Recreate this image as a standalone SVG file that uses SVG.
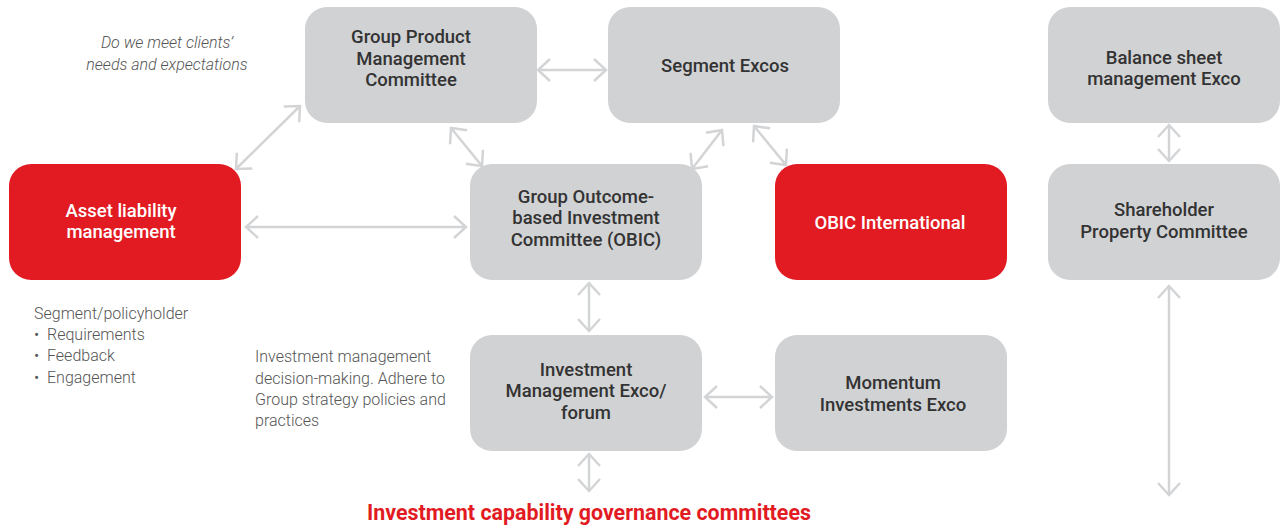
<svg xmlns="http://www.w3.org/2000/svg" width="1280" height="526" viewBox="0 0 1280 526">
  <style>
    .box { fill: #d1d2d4; }
    .red { fill: #e21b23; }
    .lbl { font-family: Roboto, "Liberation Sans", sans-serif; font-weight: 500; font-size: 18.5px; fill: #333333; text-anchor: middle; }
    .lblw { fill: #ffffff; }
    .note { font-family: Roboto, "Liberation Sans", sans-serif; font-weight: 300; font-size: 16px; fill: #555555; }
    .it { font-style: italic; text-anchor: middle; }
    .title { font-family: Roboto, "Liberation Sans", sans-serif; font-weight: 700; font-size: 21.4px; fill: #e21b23; text-anchor: middle; }
    .conn { stroke: #d3d4d6; stroke-width: 2.5; fill: none; marker-start: url(#chev); marker-end: url(#chev); }
  </style>
  <defs>
    <marker id="chev" viewBox="-14 -14 16 28" refX="0" refY="0" markerWidth="16" markerHeight="28" markerUnits="userSpaceOnUse" orient="auto-start-reverse">
      <path d="M-12,-11 L0,0 L-12,11" fill="none" stroke="#d3d4d6" stroke-width="2.5"/>
    </marker>
  </defs>

  <rect width="1280" height="526" fill="#ffffff"/>

  <!-- connectors -->
  <g id="connectors">
    <path class="conn" d="M538,70 L606,70"/>
    <path class="conn" d="M236,169 L300,106"/>
    <path class="conn" d="M451,128 L482,166"/>
    <path class="conn" d="M692,169 L722,130"/>
    <path class="conn" d="M754,126 L786,165"/>
    <path class="conn" d="M246,227 L466,227"/>
    <path class="conn" d="M589,283 L589,331"/>
    <path class="conn" d="M705,397 L772,397"/>
    <path class="conn" d="M589,454 L589,491"/>
    <path class="conn" d="M1169,125 L1169,161"/>
    <path class="conn" d="M1169,286 L1169,495"/>
  </g>

  <!-- nodes -->
  <g id="group-product-management-committee">
    <rect class="box" x="305" y="7" width="232" height="116" rx="22"/>
    <text class="lbl" x="411" y="43">Group Product</text>
    <text class="lbl" x="411" y="65">Management</text>
    <text class="lbl" x="411" y="86">Committee</text>
  </g>
  <g id="segment-excos">
    <rect class="box" x="608" y="7" width="232" height="116" rx="22"/>
    <text class="lbl" x="725" y="72">Segment Excos</text>
  </g>
  <g id="balance-sheet-management-exco">
    <rect class="box" x="1048" y="7" width="232" height="116" rx="22"/>
    <text class="lbl" x="1164" y="64">Balance sheet</text>
    <text class="lbl" x="1164" y="85">management Exco</text>
  </g>
  <g id="asset-liability-management">
    <rect class="red" x="9" y="164" width="232" height="116" rx="22"/>
    <text class="lbl lblw" x="121" y="217">Asset liability</text>
    <text class="lbl lblw" x="121" y="238">management</text>
  </g>
  <g id="obic">
    <rect class="box" x="470" y="164" width="232" height="116" rx="22"/>
    <text class="lbl" x="586" y="203">Group Outcome-</text>
    <text class="lbl" x="586" y="224">based Investment</text>
    <text class="lbl" x="586" y="246">Committee (OBIC)</text>
  </g>
  <g id="obic-international">
    <rect class="red" x="775" y="164" width="232" height="116" rx="22"/>
    <text class="lbl lblw" x="890" y="229">OBIC International</text>
  </g>
  <g id="shareholder-property-committee">
    <rect class="box" x="1048" y="164" width="232" height="116" rx="22"/>
    <text class="lbl" x="1164" y="216">Shareholder</text>
    <text class="lbl" x="1164" y="238">Property Committee</text>
  </g>
  <g id="investment-management-exco">
    <rect class="box" x="470" y="335" width="232" height="116" rx="22"/>
    <text class="lbl" x="586" y="376">Investment</text>
    <text class="lbl" x="586" y="397">Management Exco/</text>
    <text class="lbl" x="586" y="419">forum</text>
  </g>
  <g id="momentum-investments-exco">
    <rect class="box" x="775" y="335" width="232" height="116" rx="22"/>
    <text class="lbl" x="893" y="389">Momentum</text>
    <text class="lbl" x="893" y="411">Investments Exco</text>
  </g>

  <!-- annotations -->
  <g id="notes">
    <text class="note it" x="167" y="48">Do we meet clients’</text>
    <text class="note it" x="167" y="70">needs and expectations</text>

    <text class="note" x="34" y="319">Segment/policyholder</text>
    <text class="note" x="34" y="340">•<tspan x="47">Requirements</tspan></text>
    <text class="note" x="34" y="361">•<tspan x="47">Feedback</tspan></text>
    <text class="note" x="34" y="383">•<tspan x="47">Engagement</tspan></text>

    <text class="note" x="255" y="362">Investment management</text>
    <text class="note" x="255" y="384">decision-making. Adhere to</text>
    <text class="note" x="255" y="405">Group strategy policies and</text>
    <text class="note" x="255" y="426">practices</text>
  </g>

  <text class="title" x="589" y="520">Investment capability governance committees</text>
</svg>
